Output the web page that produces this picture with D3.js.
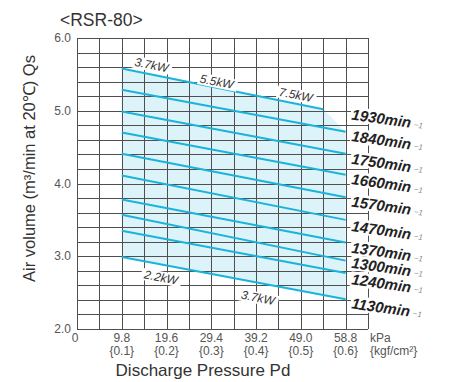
<!DOCTYPE html>
<html>
<head>
<meta charset="utf-8">
<script src="https://cdn.jsdelivr.net/npm/d3@7"></script>
<style>
  body { margin: 0; background: #fff; }
  svg { display: block; font-family: Arial, "Liberation Sans", Helvetica, sans-serif; }
</style>
</head>
<body>
<svg id="chart" width="449" height="382"></svg>
<script>
// Chart data
const speeds = ["1930", "1840", "1750", "1660", "1570", "1470", "1370", "1300", "1240", "1130"];
const pdStart = [9.8, 9.8, 9.8, 9.8, 9.8, 9.8, 9.8, 9.8, 9.8, 9.8];
const pdEnd = [53.9, 58.8, 58.8, 58.8, 58.8, 58.8, 58.8, 58.8, 58.8, 58.8];
const qsStart = [5.58, 5.29, 4.99, 4.70, 4.41, 4.11, 3.78, 3.57, 3.35, 2.99];
const qsEnd = [5.02, 4.71, 4.41, 4.12, 3.81, 3.50, 3.19, 2.94, 2.77, 2.41];

const kwLabels = ["3.7kW", "5.5kW", "7.5kW", "2.2kW", "3.7kW"];
const kwPd = [16.3, 30.6, 47.9, 18.4, 39.6];
const kwQs = [5.63, 5.40, 5.22, 2.71, 2.43];

const xTicks = [0, 9.8, 19.6, 29.4, 39.2, 49.0, 58.8];
const xTickLabels = ["0", "9.8", "19.6", "29.4", "39.2", "49.0", "58.8"];
const xTickSub = ["", "{0.1}", "{0.2}", "{0.3}", "{0.4}", "{0.5}", "{0.6}"];
const yTicks = [2, 3, 4, 5, 6];

const svg = d3.select("#chart");
const margin = { top: 38, right: 81, bottom: 53, left: 77 };
const width = +svg.attr("width");
const height = +svg.attr("height");

const x = d3.scaleLinear().domain([0, 63.7]).range([margin.left, width - margin.right]);
const y = d3.scaleLinear().domain([2, 6]).range([height - margin.bottom, margin.top]);

const lineColor = "#1ab3da";
const gridColor = "#4f4f4f";

// series as point lists
const series = speeds.map((s, i) => ({
  speed: s,
  pts: [{ p: pdStart[i], q: qsStart[i] }, { p: pdEnd[i], q: qsEnd[i] }]
}));

// light blue shading between the top and bottom curves
const topEdge = series[0].pts.concat([series[1].pts[1]]);
const bottomEdge = series[series.length - 1].pts.slice().reverse();
svg.append("path")
  .attr("d", d3.line().x(d => x(d.p)).y(d => y(d.q))(topEdge.concat(bottomEdge)) + "Z")
  .attr("fill", "#dcf3fa");

// grid
const grid = svg.append("g").attr("stroke", gridColor).attr("stroke-width", 1).attr("shape-rendering", "crispEdges");
grid.selectAll("line.v")
  .data(d3.range(0, 14).map(i => i * 4.9))
  .join("line")
  .attr("x1", d => Math.round(x(d)) + 0.5)
  .attr("x2", d => Math.round(x(d)) + 0.5)
  .attr("y1", y(6))
  .attr("y2", y(2));
grid.selectAll("line.h")
  .data(d3.range(0, 21).map(i => 2 + i * 0.2))
  .join("line")
  .attr("x1", x(0))
  .attr("x2", x(63.7))
  .attr("y1", d => Math.round(y(d)) + 0.5)
  .attr("y2", d => Math.round(y(d)) + 0.5);

// speed lines
const line = d3.line().x(d => x(d.p)).y(d => y(d.q));
svg.append("g")
  .selectAll("path")
  .data(series)
  .join("path")
  .attr("d", d => line(d.pts))
  .attr("fill", "none")
  .attr("stroke", lineColor)
  .attr("stroke-width", 2);

// kW annotations with white background
const kw = svg.append("g");
kwLabels.forEach((t, i) => {
  const g = kw.append("g")
    .attr("transform", `translate(${x(kwPd[i])},${y(kwQs[i])}) rotate(11)`);
  const txt = g.append("text")
    .attr("text-anchor", "middle")
    .attr("dy", "0.35em")
    .style("font-size", "12px")
    .style("font-style", "italic")
    .attr("fill", "#333")
    .text(t);
  const b = txt.node().getBBox();
  g.insert("rect", "text")
    .attr("x", b.x - 2).attr("y", b.y + 1)
    .attr("width", b.width + 4).attr("height", b.height - 2)
    .attr("fill", "#fff");
});

// rpm labels on the right
const labelNudge = [5, 4, 5, 4, 4, 6, 5, 2, 6, 4];
const rpm = svg.append("g");
series.forEach((s, i) => {
  const yy = y(qsEnd[i]) + labelNudge[i];
  const g = rpm.append("g")
    .attr("transform", `translate(${x(58.8) + 6},${yy}) rotate(8)`);
  const txt = g.append("text")
    .attr("dy", "0.35em")
    .style("font-size", "15px")
    .style("font-style", "italic")
    .style("font-weight", "bold")
    .attr("fill", "#222");
  txt.append("tspan").text(s.speed + "min");
  txt.append("tspan")
    .attr("dy", "-1")
    .attr("dx", "3")
    .style("font-size", "8px")
    .style("font-weight", "normal")
    .attr("fill", "#888")
    .text("−1");
  const b = txt.node().getBBox();
  g.insert("rect", "text")
    .attr("x", b.x - 1).attr("y", b.y + 1)
    .attr("width", b.width + 2).attr("height", b.height - 2)
    .attr("fill", "#fff");
});

// y tick labels
svg.append("g")
  .selectAll("text")
  .data(yTicks)
  .join("text")
  .attr("x", x(0) - 6)
  .attr("y", d => y(d))
  .attr("dy", "0.35em")
  .attr("text-anchor", "end")
  .style("font-size", "12px")
  .attr("fill", "#555")
  .text(d => d.toFixed(1));

// x tick labels
const xt = svg.append("g").attr("fill", "#555").style("font-size", "12px");
xt.selectAll("text.main")
  .data(xTicks)
  .join("text")
  .attr("x", (d, i) => x(d) - (i === 0 ? 2 : 0))
  .attr("y", y(2) + 13)
  .attr("text-anchor", "middle")
  .text((d, i) => xTickLabels[i]);
xt.selectAll("text.sub")
  .data(xTicks.filter((d, i) => xTickSub[i]))
  .join("text")
  .attr("x", d => x(d))
  .attr("y", y(2) + 26)
  .attr("text-anchor", "middle")
  .text(d => xTickSub[xTicks.indexOf(d)]);
xt.append("text").attr("x", x(63.7) + 2).attr("y", y(2) + 13).text("kPa");
xt.append("text").attr("x", x(63.7) + 2).attr("y", y(2) + 26).text("{kgf/cm²}");

// axis titles
svg.append("text")
  .attr("x", 203)
  .attr("y", height - 6)
  .attr("text-anchor", "middle")
  .style("font-size", "17px")
  .attr("fill", "#333")
  .text("Discharge Pressure Pd");

svg.append("text")
  .attr("transform", `translate(35,${(y(6) + y(2)) / 2 - 15}) rotate(-90)`)
  .attr("text-anchor", "middle")
  .style("font-size", "16.5px")
  .attr("fill", "#333")
  .text("Air volume (m³/min at 20℃) Qs");

// chart title
svg.append("text")
  .attr("x", 60)
  .attr("y", 26)
  .style("font-size", "17.5px")
  .attr("fill", "#333")
  .text("<RSR-80>");
</script>
</body>
</html>
